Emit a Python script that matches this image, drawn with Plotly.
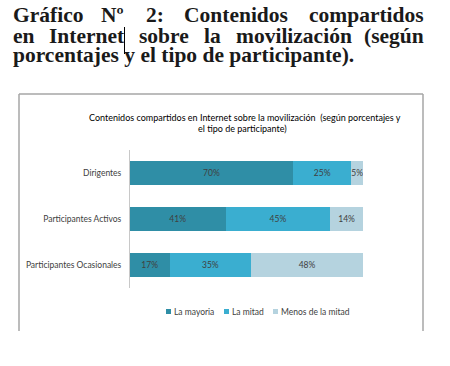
import plotly.graph_objects as go

W, H = 450, 366
categories = ["Dirigentes", "Participantes Activos", "Participantes Ocasionales"]
series_names = ["La mayoria", "La mitad", "Menos de la mitad"]
la_mayoria = [70, 41, 17]
la_mitad = [25, 45, 35]
menos_mitad = [5, 14, 48]
colors = ["#2f8ea6", "#3aaed0", "#b5d3df"]

def px(x):
    return x / W

def py(y):
    return 1 - y / H

fig = go.Figure()
for name, vals, col in zip(series_names, [la_mayoria, la_mitad, menos_mitad], colors):
    fig.add_trace(go.Bar(
        y=categories, x=vals, name=name, orientation="h",
        marker=dict(color=col, line=dict(width=0)),
        text=[f"{v}%" for v in vals], textposition="inside",
        insidetextanchor="middle", constraintext="none", textangle=0,
        textfont=dict(family="Lato", size=8.5, color="#404040"),
        hoverinfo="skip", showlegend=False,
    ))

fig.update_layout(
    width=W, height=H, barmode="stack", bargap=0.48,
    margin=dict(l=0, r=0, t=0, b=0),
    paper_bgcolor="white", plot_bgcolor="white",
    xaxis=dict(domain=[px(130), px(363)], range=[0, 100], visible=False, fixedrange=True),
    yaxis=dict(domain=[py(288), py(150)], categoryorder="array",
               categoryarray=categories[::-1], showline=True, linecolor="#c8c8c8",
               linewidth=1, showgrid=False, ticks="", ticklabelstandoff=6,
               tickfont=dict(family="Lato", size=8.5, color="#404040")),
)

anns = []
# heading (justified words)
serif = dict(family="Liberation Serif", size=21.5, color="#1a1a1a")
line1 = [("Gráfico", 12), ("Nº", 100), ("2:", 145), ("Contenidos", 183), ("compartidos", 308)]
line2 = [("en", 12), ("Internet", 48), ("sobre", 138), ("la", 203), ("movilización", 235), ("(según", 363)]
line3 = [("porcentajes y el tipo de participante).", 12)]
for words, ybase in [(line1, 24), (line2, 45), (line3, 64)]:
    for w, x in words:
        anns.append(dict(text=f"<b>{w}</b>", x=px(x), y=py(ybase - 9), xref="paper", yref="paper",
                         xanchor="left", yanchor="middle", showarrow=False, font=serif,
                         borderpad=0))
# chart title
tfont = dict(family="Lato", size=9, color="#000000")
anns.append(dict(text="Contenidos compartidos en Internet sobre la movilización  (según porcentajes y",
                 x=px(245), y=py(117), xref="paper", yref="paper", xanchor="center",
                 yanchor="middle", showarrow=False, font=tfont, borderpad=0))
anns.append(dict(text="el tipo de participante)", x=px(242), y=py(128.5), xref="paper", yref="paper",
                 xanchor="center", yanchor="middle", showarrow=False, font=tfont, borderpad=0))

shapes = []
# legend
leg = [(166, series_names[0], colors[0]), (224, series_names[1], colors[1]), (273, series_names[2], colors[2])]
for x, name, col in leg:
    shapes.append(dict(type="rect", xref="paper", yref="paper", x0=px(x), x1=px(x + 5),
                       y0=py(314), y1=py(309), fillcolor=col, line=dict(width=0)))
    anns.append(dict(text=name, x=px(x + 7), y=py(311.5), xref="paper", yref="paper",
                     xanchor="left", yanchor="middle", showarrow=False, borderpad=0,
                     font=dict(family="Lato", size=8.5, color="#404040")))

# chart box border (left, top, right)
bc = "#a6a6a6"
for x0, y0, x1, y1 in [(19, 94, 19, 331), (19, 94, 423, 94), (423, 94, 423, 331)]:
    shapes.append(dict(type="line", xref="paper", yref="paper", x0=px(x0), y0=py(y0),
                       x1=px(x1), y1=py(y1), line=dict(color=bc, width=1.5)))
# text cursor
shapes.append(dict(type="line", xref="paper", yref="paper", x0=px(124.5), x1=px(124.5),
                   y0=py(27), y1=py(54), line=dict(color="#000", width=1)))

fig.update_layout(annotations=anns, shapes=shapes)
fig.write_html("out.html", config={"displayModeBar": False},
               post_script="document.body.style.margin='0';")
